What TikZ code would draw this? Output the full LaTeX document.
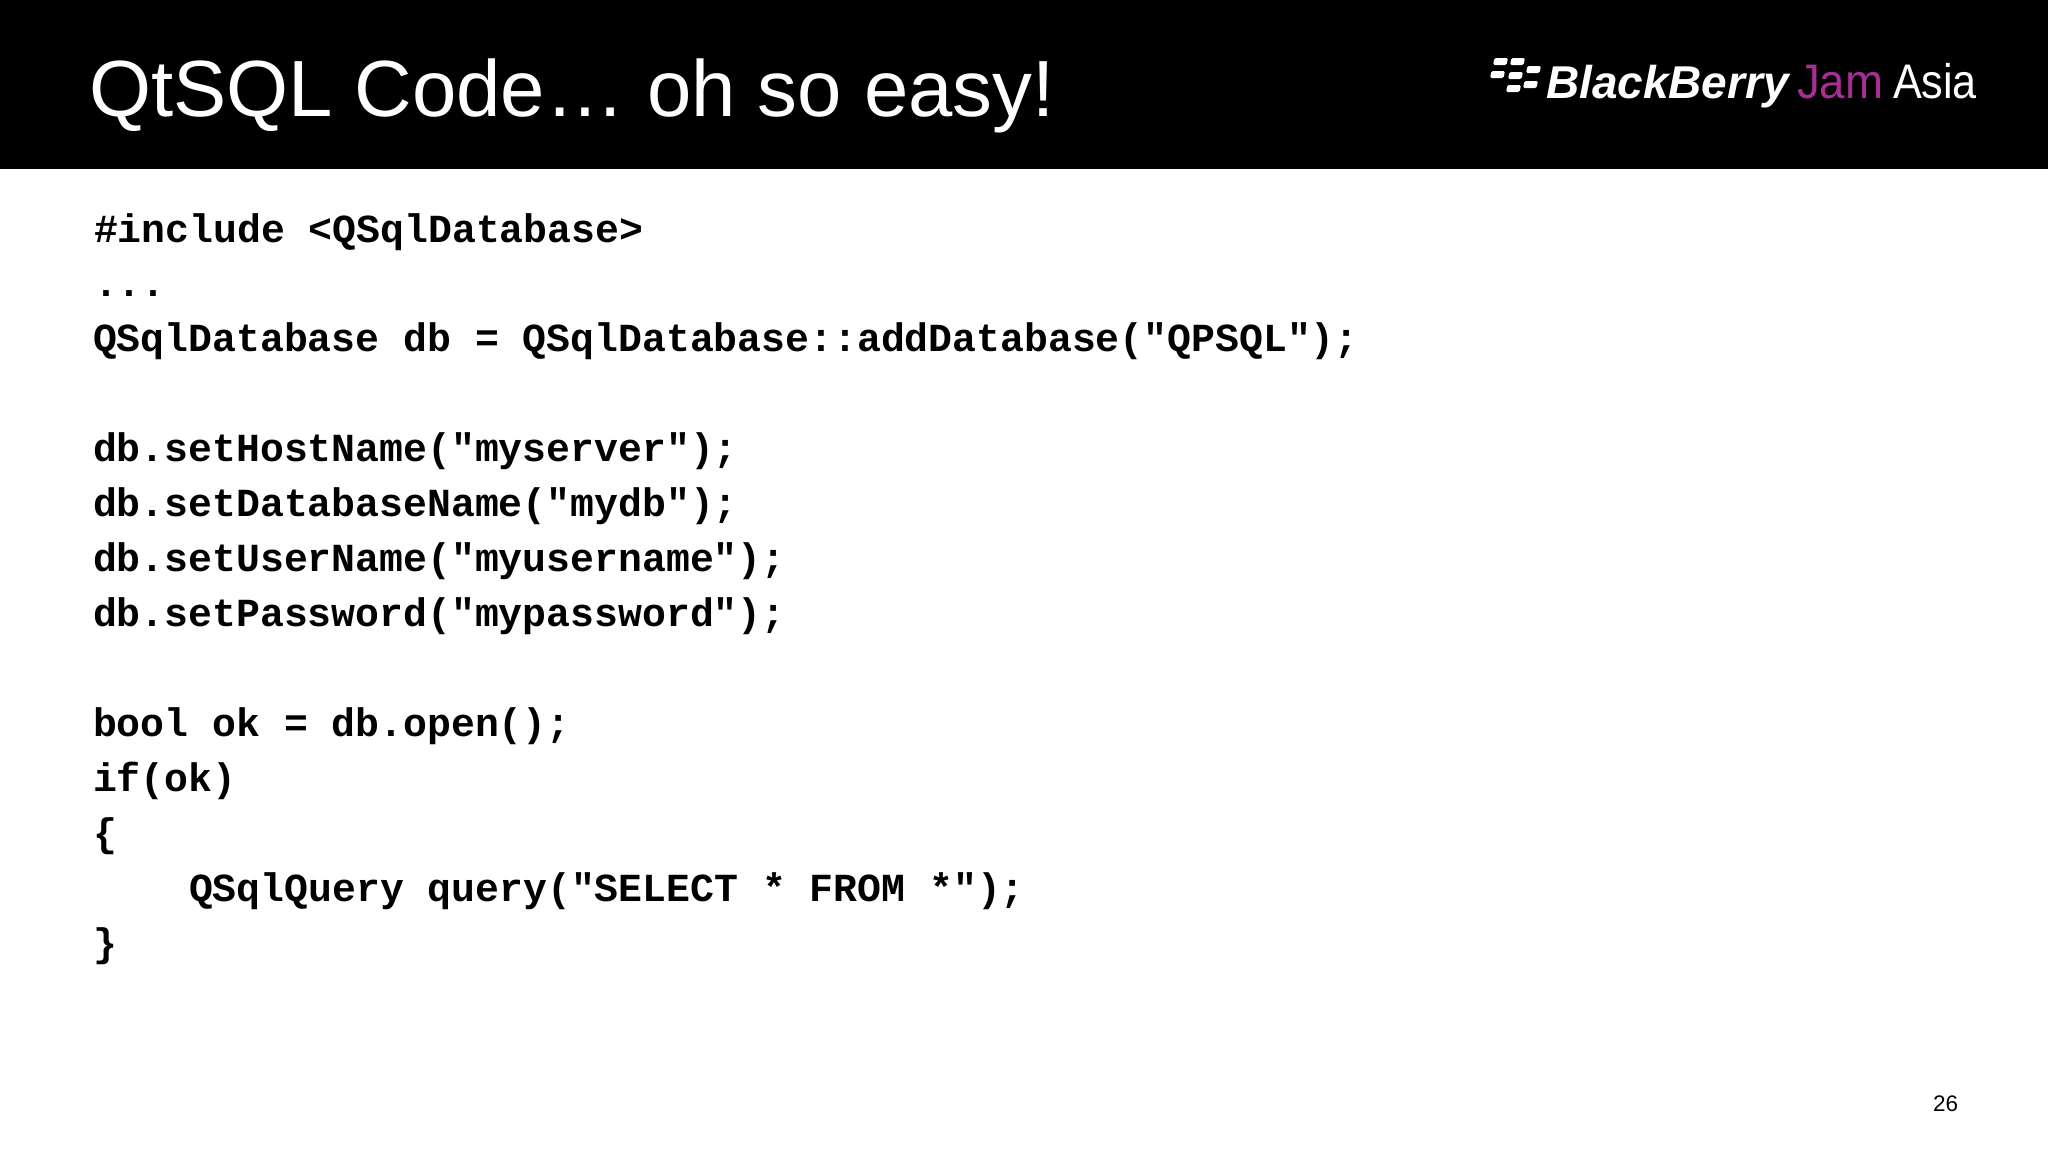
\documentclass[tikz,border=0pt]{standalone}
\usepackage{fontspec}
\setmainfont{Liberation Sans}
\newfontfamily\codefont{Liberation Mono}[BoldFont={Liberation Mono Bold}]
\tikzset{
  code/.style={anchor=base west,inner sep=0pt,outer sep=0pt,font=\codefont\bfseries\fontsize{39.8}{40}\selectfont,text=black},
  logotext/.style={anchor=base west,inner sep=0pt,outer sep=0pt},
  bbdash/.style={fill=white,rounded corners=1.5pt}
}
\newcommand{\bbd}[2]{\fill[bbdash] (#1+1.5,#2) -- (#1+15,#2) -- (#1+13.5,#2+7) -- (#1,#2+7) -- cycle;}
\begin{document}
\begin{tikzpicture}[x=1pt,y=-1pt]
\useasboundingbox (0,0) rectangle (2048,1152);
\fill[white] (0,0) rectangle (2048,1152);
\fill[black] (0,0) rectangle (2048,169);
\node[logotext,text=white] (title) at (89,116) {\fontsize{79.7}{80}\selectfont QtSQL Code… oh so easy!};
\bbd{1493}{58}\bbd{1510}{58}
\bbd{1490}{71}\bbd{1508}{72}\bbd{1526}{66}
\bbd{1506}{85}\bbd{1523}{81}
\node[logotext,text=white] (lbb) at (1546,98) {\bfseries\itshape\fontsize{46}{46}\selectfont BlackBerry};
\node[logotext,text={rgb,255:red,168;green,46;blue,148}] (ljam) at (1797,98) {\scalebox{0.94}[1]{\fontsize{48.5}{48}\selectfont Jam}};
\node[logotext,text=white] (lasia) at (1893,98) {\scalebox{0.89}[1]{\fontsize{48.5}{48}\selectfont Asia}};
\node[code] (c1) at (94,242) {\#include <QSqlDatabase>};
\node[code] (c2) at (94,296) {...};
\node[code] (c3) at (93,351) {QSqlDatabase db = QSqlDatabase::addDatabase("QPSQL");};
\node[code] (c4) at (93,461) {db.setHostName("myserver");};
\node[code] (c5) at (93,516) {db.setDatabaseName("mydb");};
\node[code] (c6) at (93,571) {db.setUserName("myusername");};
\node[code] (c7) at (93,626) {db.setPassword("mypassword");};
\node[code] (c8) at (93,736) {bool ok = db.open();};
\node[code] (c9) at (93,791) {if(ok)};
\node[code] (c10) at (93,846) {\{};
\node[code] (c11) at (189,901) {QSqlQuery query("SELECT * FROM *");};
\node[code] (c12) at (93,956) {\}};
\node[logotext,text=black] (pg) at (1933,1111) {\fontsize{22.5}{22}\selectfont 26};
\end{tikzpicture}
\end{document}
